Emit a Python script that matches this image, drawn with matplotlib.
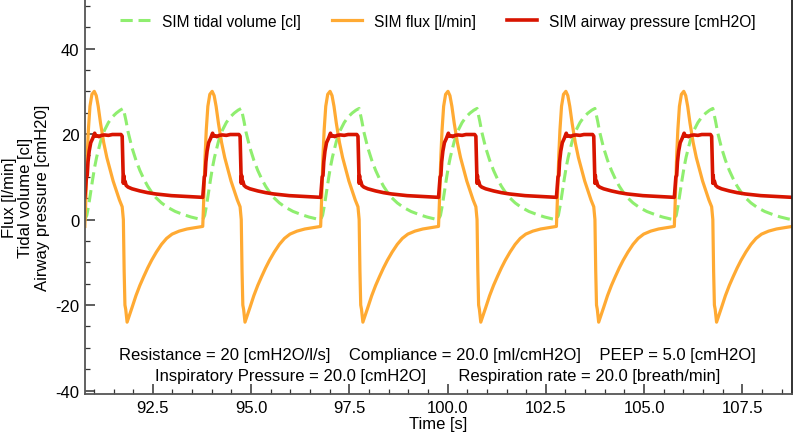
import numpy as np
import matplotlib.pyplot as plt

plt.rcParams['font.family'] = ['Liberation Sans', 'DejaVu Sans']

# one breath (3 s), time offset from breath start [s]
flux_t = [0.00, 0.03, 0.06, 0.09, 0.13, 0.18, 0.24, 0.29, 0.34, 0.40, 0.48, 0.56,
          0.64, 0.72, 0.80, 0.88, 0.95, 0.98, 1.00, 1.02, 1.04, 1.075, 1.12, 1.20,
          1.30, 1.40, 1.50, 1.60, 1.70, 1.82, 1.95, 2.08, 2.22, 2.40, 2.60, 2.80, 3.00]
flux = [-1.6, 6.0, 15.0, 21.0, 26.5, 29.3, 30.0, 29.0, 26.5, 22.5, 18.0, 14.5,
        11.7, 9.0, 6.8, 4.6, 3.0, 0.0, -12.0, -20.0, -21.0, -24.0, -22.8, -20.6,
        -17.8, -15.4, -13.3, -11.3, -9.5, -7.6, -5.8, -4.4, -3.4, -2.7, -2.2, -1.9, -1.6]

vol_t = [0.00, 0.05, 0.10, 0.15, 0.20, 0.25, 0.30, 0.40, 0.50, 0.60, 0.70, 0.80,
         0.90, 0.98, 1.05, 1.10, 1.20, 1.30, 1.40, 1.50, 1.60, 1.70, 1.80, 1.95,
         2.10, 2.30, 2.50, 2.70, 2.90, 3.00]
volume = [0.0, 1.0, 3.5, 6.5, 9.5, 12.3, 14.6, 18.3, 20.9, 22.7, 24.0, 24.9,
          25.6, 26.0, 23.0, 20.5, 16.8, 13.9, 11.5, 9.5, 7.8, 6.4, 5.2, 3.9,
          2.9, 1.9, 1.2, 0.6, 0.15, 0.0]

pres_t = [0.00, 0.02, 0.04, 0.06, 0.08, 0.11, 0.15, 0.20, 0.25, 0.28, 0.32, 0.36,
          0.42, 0.50, 0.60, 0.70, 0.80, 0.92, 0.95, 0.97, 0.98, 0.99, 1.00, 1.02,
          1.05, 1.10, 1.20, 1.40, 1.60, 1.80, 2.00, 2.20, 2.40, 2.60, 2.80, 3.00]
pressure = [5.2, 7.5, 10.0, 10.3, 13.5, 16.0, 18.0, 19.0, 20.2, 19.5, 19.6, 19.4,
            19.7, 19.8, 19.7, 19.9, 19.9, 19.9, 19.5, 12.0, 8.5, 10.3, 8.6, 9.0,
            8.0, 7.6, 7.2, 6.7, 6.3, 6.0, 5.8, 5.6, 5.5, 5.4, 5.3, 5.2]

breath_starts = [90.77, 93.77, 96.77, 99.77, 102.77, 105.77]


def tile(t, y):
    tt = np.concatenate([s + np.array(t) for s in breath_starts])
    yy = np.tile(y, len(breath_starts))
    return tt, yy


fig = plt.figure(figsize=(7.93, 4.35), dpi=100)
ax = fig.add_axes([0.107, 0.092, 0.892, 0.907])

t, y = tile(vol_t, volume)
ax.plot(t, y, color='#8fee6f', lw=2.2, ls=(0, (4.0, 1.9)), label='SIM tidal volume [cl]')
t, y = tile(flux_t, flux)
ax.plot(t, y, color='#ffaa33', lw=2.3, label='SIM flux [l/min]')
t, y = tile(pres_t, pressure)
ax.plot(t, y, color='#d81400', lw=2.6, label='SIM airway pressure [cmH2O]')

ax.set_xlim(90.77, 108.77)
ax.set_ylim(-40.8, 51.5)
ax.set_xticks([92.5, 95.0, 97.5, 100.0, 102.5, 105.0, 107.5])
ax.set_xticklabels(['92.5', '95.0', '97.5', '100.0', '102.5', '105.0', '107.5'])
ax.set_xticks(np.arange(91.0, 108.8, 0.5), minor=True)
ax.set_yticks([-40, -20, 0, 20, 40])
ax.set_yticklabels(['-40', '-20', '0', '20', '40'])
ax.set_yticks(np.arange(-40, 51, 5), minor=True)
ax.tick_params(which='both', direction='in', labelsize=12, pad=4, color='#333333')
ax.tick_params(which='major', length=7, width=1.1)
ax.tick_params(which='minor', length=3.5, width=0.9)
for side in ['left', 'bottom']:
    ax.spines[side].set_color('#555555')
    ax.spines[side].set_linewidth(1.3)
for side in ['top', 'right']:
    ax.spines[side].set_color('#222222')
    ax.spines[side].set_linewidth(1.3)

ax.set_xlabel('Time [s]', fontsize=12, labelpad=1)
ax.set_ylabel('Flux [l/min]\nTidal volume [cl]\nAirway pressure [cmH20]',
              fontsize=12, labelpad=4, linespacing=1.1)

ax.legend(loc='center', ncol=3, frameon=False, fontsize=11.2,
          handlelength=1.9, handletextpad=0.8, columnspacing=2.0,
          bbox_to_anchor=(0.499, 0.945))

ax.text(0.499, 0.0995,
        'Resistance = 20 [cmH2O/l/s]    Compliance = 20.0 [ml/cmH2O]    PEEP = 5.0 [cmH2O]',
        transform=ax.transAxes, ha='center', va='center', fontsize=12)
ax.text(0.499, 0.046,
        'Inspiratory Pressure = 20.0 [cmH2O]       Respiration rate = 20.0 [breath/min]',
        transform=ax.transAxes, ha='center', va='center', fontsize=12)

fig.savefig('out.png', dpi=100)
